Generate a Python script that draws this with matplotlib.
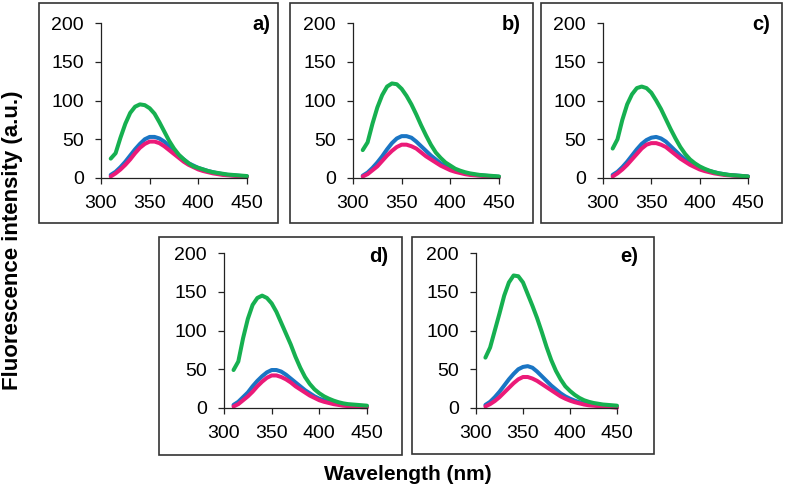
import matplotlib
matplotlib.use("Agg")
import matplotlib.pyplot as plt
from matplotlib.patches import Rectangle

plt.rcParams['font.family'] = ['Liberation Sans', 'DejaVu Sans']

# wavelength grid (nm)
wavelength = [310, 315, 320, 325, 330, 335, 340, 345, 350, 355, 360, 365, 370, 375, 380,
              385, 390, 395, 400, 405, 410, 415, 420, 425, 430, 435, 440, 445, 450]

panel_labels = ['a)', 'b)', 'c)', 'd)', 'e)']

green_a = [25, 32, 52, 70, 84, 92, 95, 94, 90, 83, 72, 60, 48, 38, 30,
           24, 19, 15, 13, 11, 9, 7.5, 6.5, 5.5, 4.5, 4, 3.5, 3, 2.5]
blue_a = [4, 8, 14, 21, 29, 37, 44, 50, 53, 53, 51, 47, 41, 35, 29,
          24, 19, 16, 13, 11, 9, 7.5, 6, 5, 4, 3.5, 3, 2.5, 2]
pink_a = [2, 6, 11, 17, 24, 32, 39, 44, 47, 47, 45, 41, 36, 31, 26,
          21, 17, 14, 11, 9, 7.5, 6, 5, 4, 3.5, 3, 2.5, 2, 1.5]

green_b = [36, 46, 70, 91, 107, 118, 122, 121, 115, 106, 95, 82, 68, 55, 43,
           33, 26, 20, 16, 12, 9.5, 7.5, 6, 5, 4, 3.5, 3, 2.5, 2]
blue_b = [3, 7, 13, 20, 28, 37, 45, 51, 54, 54, 52, 47, 41, 35, 29,
          24, 19, 15, 12, 10, 8, 6.5, 5, 4, 3.5, 3, 2.5, 2, 1.5]
pink_b = [2, 5, 10, 15, 22, 29, 35, 40, 43, 43, 41, 38, 33, 28, 24,
          20, 16, 13, 10, 8, 6.5, 5, 4, 3.5, 3, 2.5, 2, 1.5, 1]

green_c = [38, 50, 75, 95, 108, 116, 118, 116, 110, 100, 89, 76, 63, 51, 40,
           31, 24, 19, 15, 12, 9.5, 7.5, 6, 5, 4, 3.5, 3, 2.5, 2]
blue_c = [4, 8, 14, 21, 29, 37, 44, 49, 52, 53, 51, 47, 41, 35, 29,
          24, 19, 16, 13, 11, 9, 7.5, 6, 5, 4, 3.5, 3, 2.5, 2]
pink_c = [2, 6, 11, 17, 24, 31, 38, 43, 45, 45, 43, 40, 35, 30, 25,
          21, 17, 14, 11, 9, 7.5, 6, 5, 4, 3.5, 3, 2.5, 2, 1.5]

green_d = [49, 60, 90, 115, 133, 142, 145, 142, 135, 124, 110, 96, 82, 66, 52,
           40, 31, 24, 19, 15, 12, 9.5, 7.5, 6, 5, 4.5, 4, 3.5, 3]
blue_d = [4, 8, 14, 20, 28, 35, 41, 46, 49, 49, 47, 43, 38, 33, 28,
          23, 19, 15, 12, 10, 8, 6.5, 5, 4, 3.5, 3, 2.5, 2, 1.5]
pink_d = [2, 5, 10, 15, 21, 28, 34, 39, 42, 42, 40, 37, 33, 28, 24,
          20, 16, 13, 10, 8, 6.5, 5, 4, 3, 2.5, 2, 1.5, 1, 1]

green_e = [65, 78, 100, 122, 145, 162, 171, 170, 162, 147, 132, 116, 98, 79, 62,
           48, 37, 28, 22, 17, 13, 10, 8, 6.5, 5.5, 4.5, 4, 3.5, 3]
blue_e = [4, 8, 14, 21, 29, 37, 44, 50, 53, 54, 52, 47, 41, 35, 29,
          24, 19, 15, 12, 9.5, 7.5, 6, 5, 4, 3, 2.5, 2, 1.5, 1]
pink_e = [2, 5, 9, 14, 20, 26, 32, 37, 40, 40, 38, 35, 31, 27, 23,
          19, 15, 12, 9.5, 7.5, 6, 4.5, 3.5, 3, 2.5, 2, 1.5, 1, 0.5]

greens = [green_a, green_b, green_c, green_d, green_e]
blues = [blue_a, blue_b, blue_c, blue_d, blue_e]
pinks = [pink_a, pink_b, pink_c, pink_d, pink_e]

W, H = 787, 499

# pixel layout: axes (x0, y_top, x1, y_bottom), frame box, label anchor (right, center)
axes_px = [(101, 23, 247, 178), (353, 23, 499, 178), (603, 23, 748, 178),
           (224, 253, 367, 408), (476, 253, 617, 408)]
box_px = [(39, 3, 278, 223), (290, 3, 533, 223), (541, 3, 782, 223),
          (159, 237, 402, 455), (412, 237, 654, 454)]
lab_px = [(270, 25), (521, 25), (770, 25), (388, 256), (638, 256)]


def fig_rect(x0, y0, x1, y1):
    return [x0 / W, 1 - y1 / H, (x1 - x0) / W, (y1 - y0) / H]


fig = plt.figure(figsize=(W / 100, H / 100), dpi=100)

for i in range(5):
    bx = box_px[i]
    fig.add_artist(Rectangle((bx[0] / W, 1 - bx[3] / H), (bx[2] - bx[0]) / W, (bx[3] - bx[1]) / H,
                             transform=fig.transFigure, fill=False, edgecolor='#333333', lw=1.2))

    ax = fig.add_axes(fig_rect(*axes_px[i]))
    ax.plot(wavelength, blues[i], color='#1a75c4', lw=2.9, solid_capstyle='round', clip_on=False)
    ax.plot(wavelength, pinks[i], color='#eb1a78', lw=2.9, solid_capstyle='round', clip_on=False)
    ax.plot(wavelength, greens[i], color='#16b050', lw=2.9, solid_capstyle='round', clip_on=False)

    ax.set_xlim(300, 450)
    ax.set_ylim(0, 200)
    ax.set_xticks([300, 350, 400, 450])
    ax.set_yticks([0, 50, 100, 150, 200])
    for s in ['top', 'right']:
        ax.spines[s].set_visible(False)
    for s in ['left', 'bottom']:
        ax.spines[s].set_color('#222222')
        ax.spines[s].set_linewidth(0.9)
    ax.tick_params(direction='out', length=4.5, width=0.9, color='#222222',
                   labelsize=14, pad=8)
    ax.patch.set_alpha(0)

    lx, ly = lab_px[i]
    fig.text(lx / W, 1 - ly / H, panel_labels[i], ha='right', va='center',
             fontsize=14.5, fontweight='bold')

fig.text(13 / W, 1 - 240 / H, 'Fluorescence intensity (a.u.)', rotation=90,
         ha='center', va='center', fontsize=16, fontweight='bold')
fig.text(408 / W, 1 - 475 / H, 'Wavelength (nm)', ha='center', va='center',
         fontsize=15, fontweight='bold')

fig.savefig('out.png', dpi=100)
plt.close(fig)
